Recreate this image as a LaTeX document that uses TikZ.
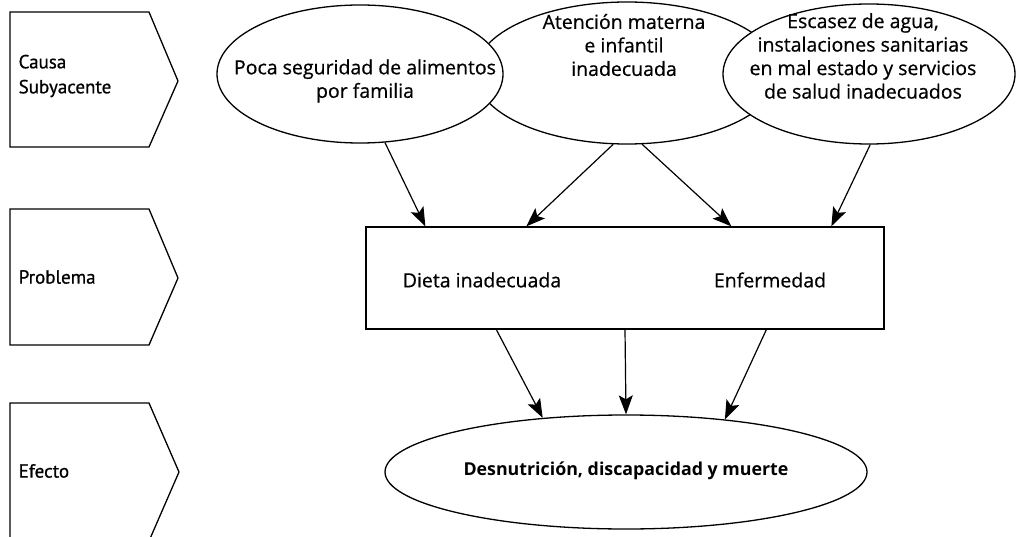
\documentclass[tikz,border=0pt]{standalone}
\usepackage{fontspec}
\setmainfont{Open Sans}[FakeBold=0.6]
\newfontfamily\regfont{Open Sans}[FakeBold=0.6]
\newfontfamily\boldfont{Open Sans Bold}
\newfontfamily\labfont{PT Sans}[FakeBold=0.7]
\usetikzlibrary{shapes.geometric,arrows.meta,calc}
\begin{document}
\begin{tikzpicture}[x=1pt,y=-1pt, line width=1.3pt,
  ell/.style={draw, ellipse, inner sep=0pt, fill=white},
  arr/.style={-{Stealth[length=19pt,width=14pt,inset=4pt]}, line width=1.2pt},
  lab/.style={anchor=west, font=\labfont\fontsize{19}{25}\selectfont, inner sep=0pt, align=left},
  txt/.style={font=\regfont\fontsize{19.5}{23.5}\selectfont, align=center, inner sep=0pt},
  pent/.style={draw, line width=1.3pt, line join=miter},
  ]
\useasboundingbox (0,0) rectangle (1019,537);
% left signal shapes
\begin{scope}
\clip (0,0) rectangle (1019,537);
\draw[pent] (10,12) -- (149,12) -- (178,81) -- (149,147) -- (10,147) -- cycle;
\draw[pent] (10,209) -- (149,209) -- (178,278) -- (149,345) -- (10,345) -- cycle;
\draw[pent] (10,403) -- (149,403) -- (179,472) -- (149,541) -- (10,541) -- cycle;
\end{scope}
\node[lab] (lcausa) at (18,76) {Causa\\Subyacente};
\node[lab] (lprob) at (18,277) {Problema};
\node[lab] (lefec) at (18,471) {Efecto};
% ellipses
\node[ell, minimum width=304pt, minimum height=142pt] (e2) at (627,73) {};
\node[ell, minimum width=286pt, minimum height=138pt] (e1) at (360,74) {};
\node[ell, minimum width=292pt, minimum height=140pt] (e3) at (869,74) {};
\node[txt] (t1) at (365,81) {Poca seguridad de alimentos\\por familia};
\node[txt] (t2) at (624,45) {Atención materna\\e infantil\\inadecuada};
\node[txt] (t3) at (863,56) {Escasez de agua,\\instalaciones sanitarias\\en mal estado y servicios\\de salud inadecuados};
% problem box
\node[draw, minimum width=518pt, minimum height=102pt, inner sep=0pt] (box) at (625,278) {};
\node[txt] (diet) at (482,280) {Dieta inadecuada};
\node[txt] (enf) at (770,280) {Enfermedad};
% effect ellipse
\node[ell, minimum width=482pt, minimum height=114pt] (e4) at (626,472) {};
\node[txt, font=\boldfont\fontsize{17.8}{22}\selectfont] (t4) at (626,471) {Desnutrición, discapacidad y muerte};
% arrows
\draw[arr] (e1.-70) -- ($(box.north west)+(60,0)$);
\draw[arr] (e2.-101) -- ($(box.north west)+(161,0)$);
\draw[arr] (e2.-78) -- ($(box.north west)+(366,0)$);
\draw[arr] (e3.-89) -- ($(box.north west)+(466,0)$);
\draw[arr] ($(box.south west)+(131,0)$) -- (e4.147);
\draw[arr] (box.south) -- (e4.north);
\draw[arr] ($(box.south west)+(401,0)$) -- (e4.28);
\end{tikzpicture}
\end{document}
